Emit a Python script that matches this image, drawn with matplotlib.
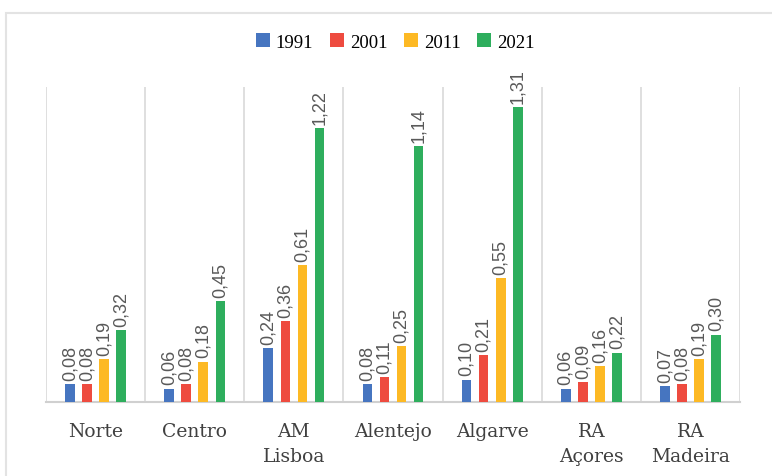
import matplotlib.pyplot as plt
import numpy as np
from matplotlib.patches import Rectangle

regions = ["Norte", "Centro", "AM\nLisboa", "Alentejo", "Algarve", "RA\nAçores", "RA\nMadeira"]
years = ["1991", "2001", "2011", "2021"]
v1991 = [0.08, 0.06, 0.24, 0.08, 0.10, 0.06, 0.07]
v2001 = [0.08, 0.08, 0.36, 0.11, 0.21, 0.09, 0.08]
v2011 = [0.19, 0.18, 0.61, 0.25, 0.55, 0.16, 0.19]
v2021 = [0.32, 0.45, 1.22, 1.14, 1.31, 0.22, 0.30]
series = [v1991, v2001, v2011, v2021]
colors = ["#4675C0", "#EE4B3F", "#FDB924", "#2EAE5D"]

fig = plt.figure(figsize=(7.72, 4.77), dpi=100)
ax = fig.add_axes([0.0596, 0.155, 0.899, 0.66])

# outer frame of the chart
fig.patches.append(Rectangle((0.008, -0.05), 1.1, 1.02, transform=fig.transFigure,
                             fill=False, edgecolor="#e3e3e3", linewidth=1.5))

x = np.arange(len(regions))
w = 0.097
step = 0.172
for i, (vals, c, yr) in enumerate(zip(series, colors, years)):
    pos = x + (i - 1.5) * step
    ax.bar(pos, vals, width=w, color=c, label=yr, zorder=3)
    for p, v in zip(pos, vals):
        ax.annotate(f"{v:.2f}".replace(".", ","), (p, v), xytext=(0, 3),
                    textcoords="offset points", rotation=90, ha="center", va="bottom",
                    fontsize=13, color="#595959", family="Liberation Sans")

ax.set_xlim(-0.5, len(regions) - 0.5)
ax.set_ylim(0, 1.40)
ax.set_yticks([])
for b in np.arange(-0.5, len(regions), 1.0):
    ax.axvline(b, color="#d9d9d9", linewidth=1.2, zorder=1)
for s in ["top", "right", "left"]:
    ax.spines[s].set_visible(False)
ax.spines["bottom"].set_color("#d0d0d0")
ax.spines["bottom"].set_linewidth(1.5)

ax.set_xticks(x)
ax.set_xticklabels(regions, family="DejaVu Serif", fontsize=13.5, color="#404040",
                   linespacing=1.55)
ax.tick_params(axis="x", length=0, pad=14)

ax.legend(loc="center", bbox_to_anchor=(0.512, 0.91), bbox_transform=fig.transFigure,
          ncol=4, frameon=False, handlelength=0.75, handleheight=0.75,
          handletextpad=0.3, columnspacing=0.9,
          prop={"family": "Liberation Serif", "size": 13.5})

plt.savefig("out.png")
